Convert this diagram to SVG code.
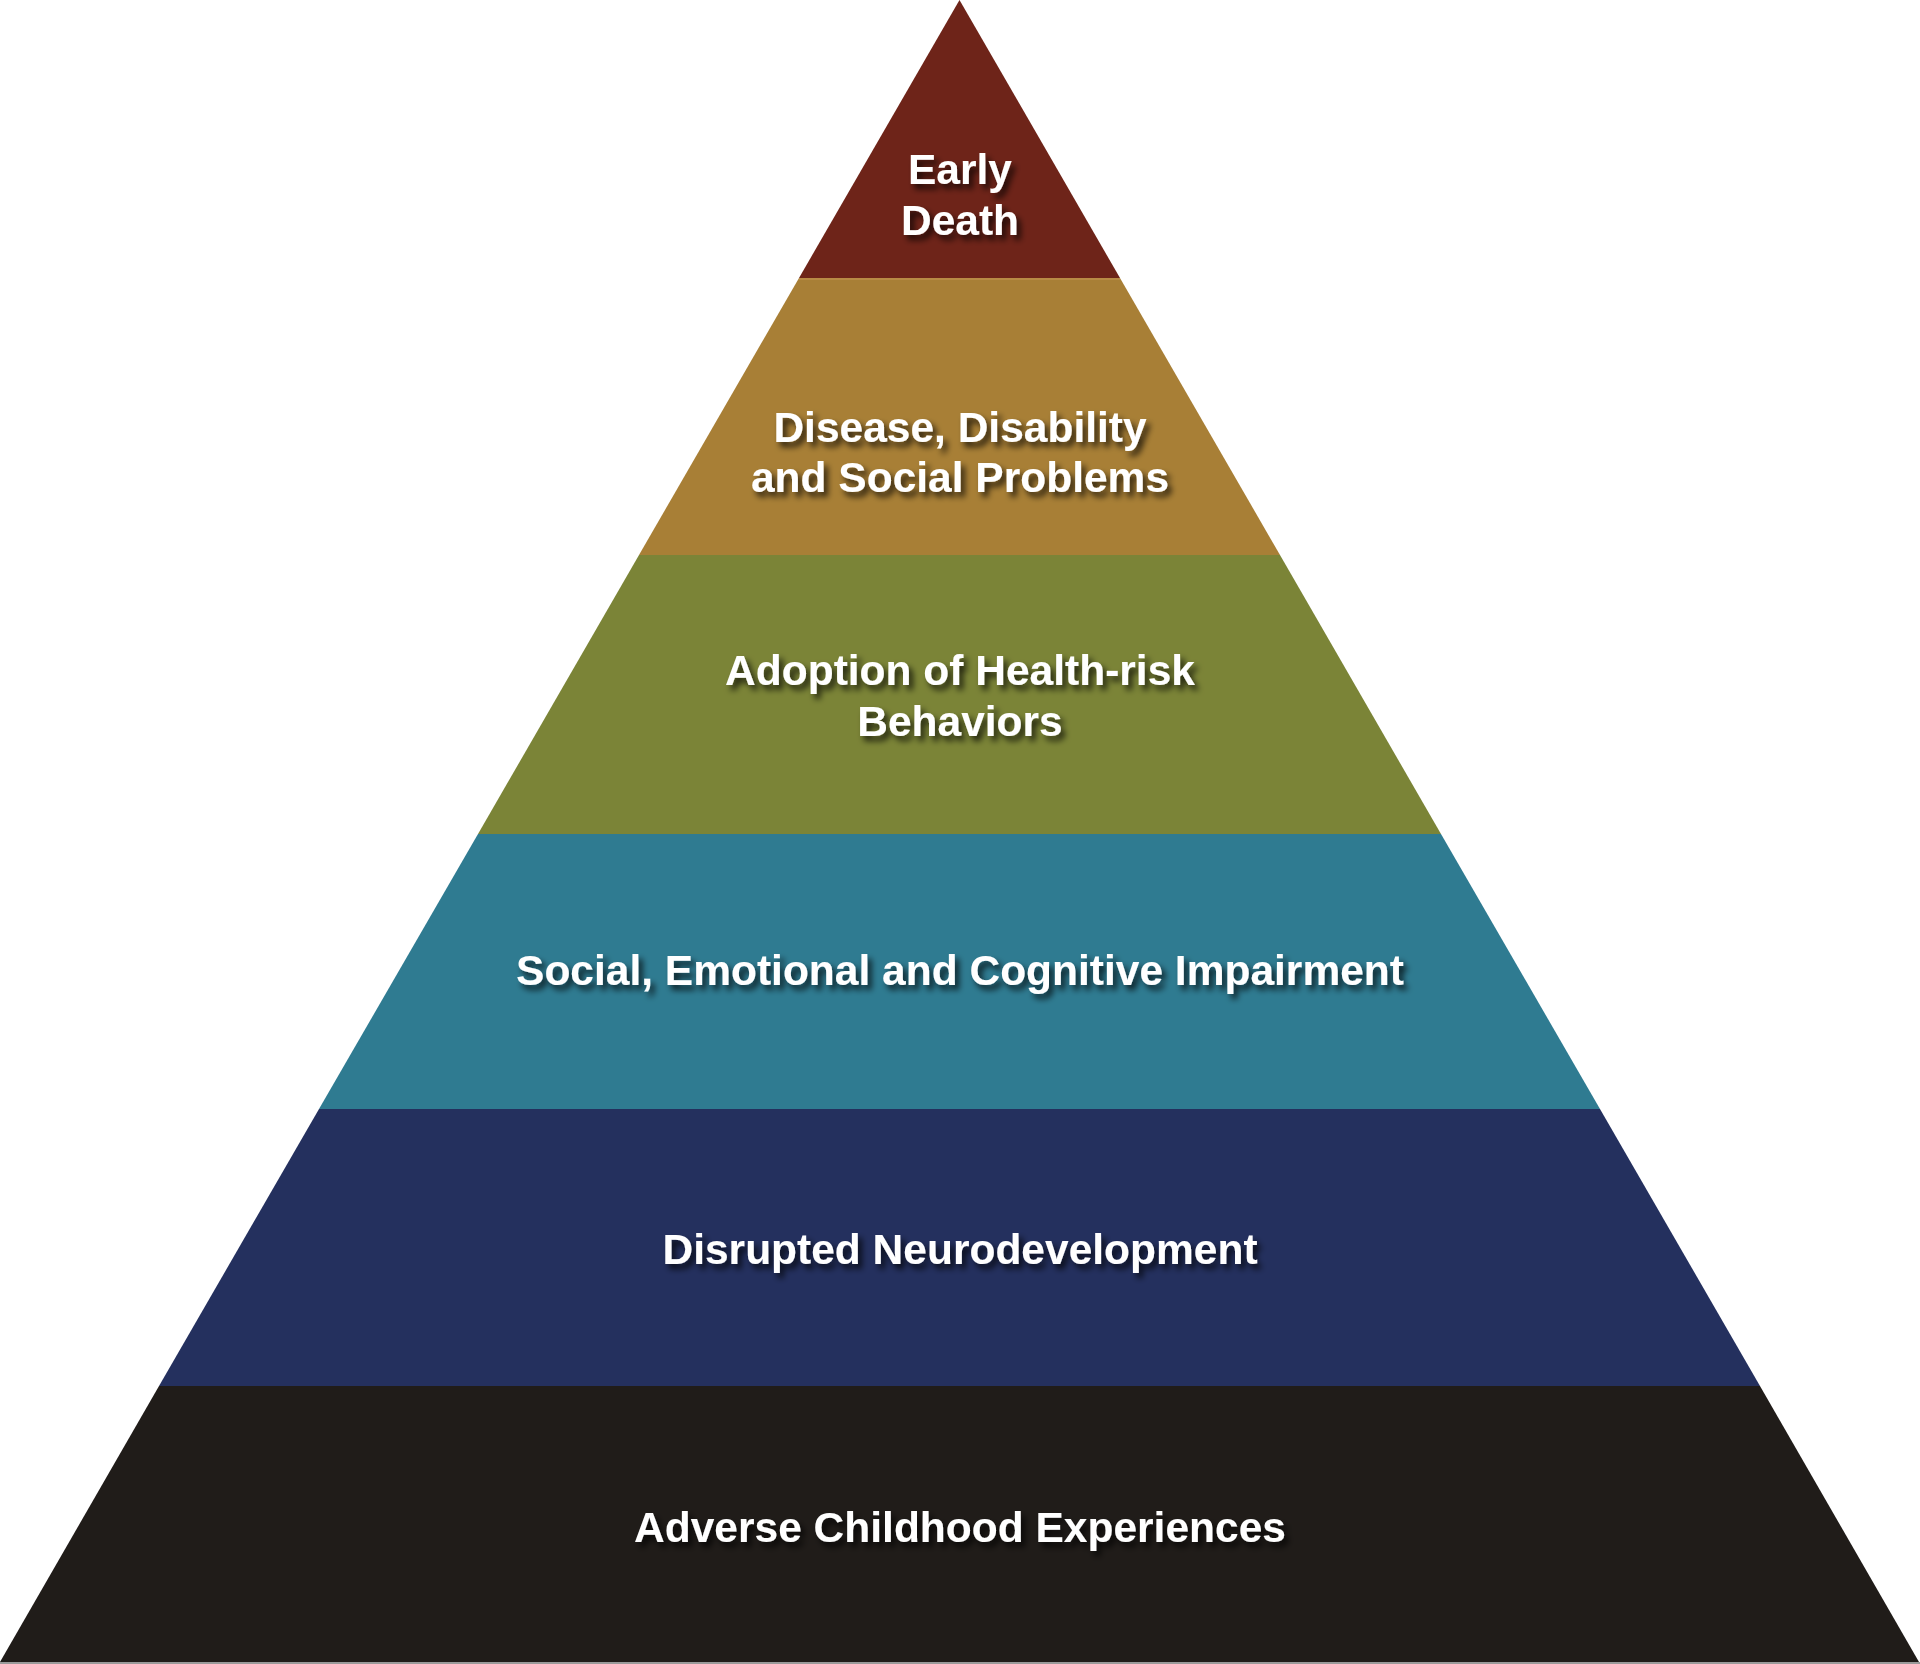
<svg xmlns="http://www.w3.org/2000/svg" width="1920" height="1664" viewBox="0 0 1920 1664">
  <defs>
    <filter id="shadow" x="-10%" y="-30%" width="120%" height="170%">
      <feDropShadow dx="4" dy="5" stdDeviation="3" flood-color="#000000" flood-opacity="0.75"/>
    </filter>
  </defs>
  <style>
    .lbl { font-family: "Liberation Sans", Arial, Helvetica, sans-serif; font-weight: bold; font-size: 42.5px; fill: #ffffff; text-anchor: middle; filter: url(#shadow); }
    .sep { stroke-width: 2; fill: none; }
  </style>
  <rect x="0" y="0" width="1920" height="1664" fill="#ffffff"/>
  <g id="level-early-death">
    <polygon points="959.5,0 1120,278 799,278" fill="#6E2419"/>
    <text class="lbl" x="960" y="184">Early</text>
    <text class="lbl" x="960" y="235">Death</text>
  </g>
  <g id="level-disease">
    <polygon points="799,278 1120,278 1280,555 639,555" fill="#A87F36"/>
    <line class="sep" x1="799" y1="279" x2="1120" y2="279" stroke="#B88A45"/>
    <text class="lbl" x="960" y="442">Disease, Disability</text>
    <text class="lbl" x="960" y="492">and Social Problems</text>
  </g>
  <g id="level-health-risk">
    <polygon points="639,555 1280,555 1441,834 478,834" fill="#7B8437"/>
    <text class="lbl" x="960" y="685">Adoption of Health-risk</text>
    <text class="lbl" x="960" y="736">Behaviors</text>
  </g>
  <g id="level-impairment">
    <polygon points="478,834 1441,834 1600,1109 319,1109" fill="#2F7B91"/>
    <text class="lbl" x="960" y="985">Social, Emotional and Cognitive Impairment</text>
  </g>
  <g id="level-neurodevelopment">
    <polygon points="319,1109 1600,1109 1760,1386 159,1386" fill="#24305E"/>
    <text class="lbl" x="960" y="1264">Disrupted Neurodevelopment</text>
  </g>
  <g id="level-ace">
    <polygon points="159,1386 1760,1386 1919,1662 0,1662" fill="#201C19"/>
    <text class="lbl" x="960" y="1542">Adverse Childhood Experiences</text>
  </g>
  <g id="connectors"></g>
  <line x1="0" y1="1663" x2="1920" y2="1663" stroke="#9A9A9A" stroke-width="2"/>
</svg>
